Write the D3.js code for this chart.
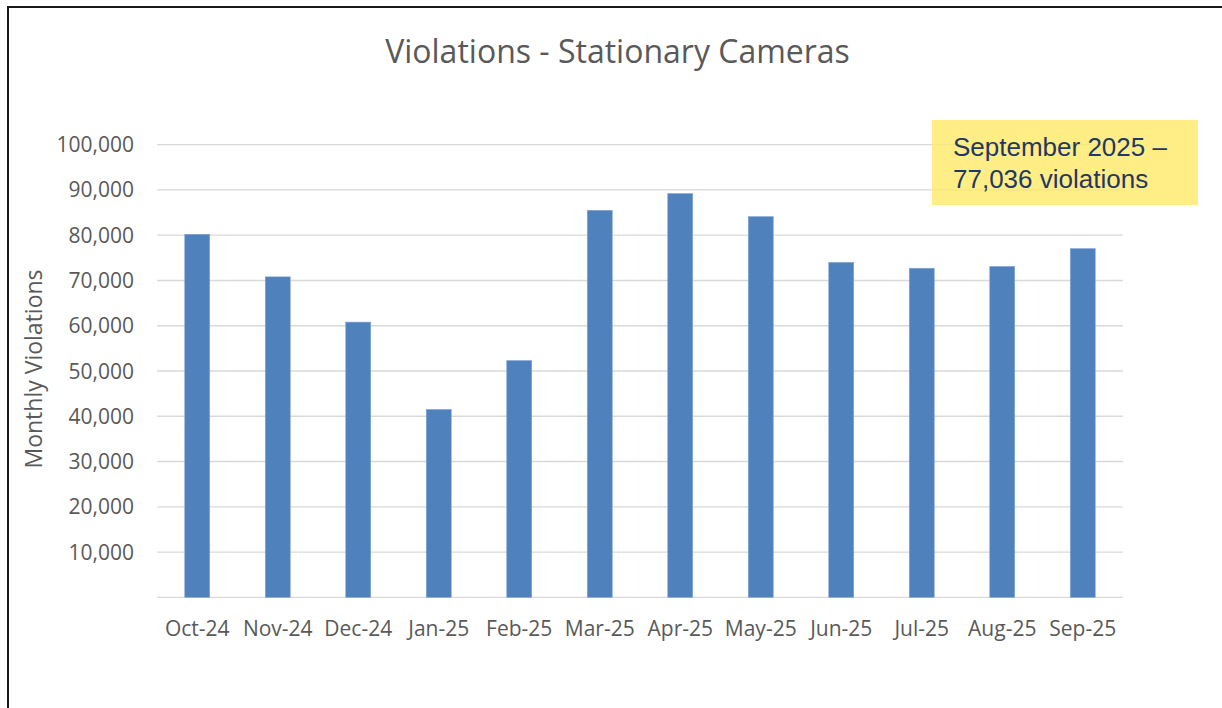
<!DOCTYPE html>
<html>
<head>
<meta charset="utf-8">
<script src="https://cdn.jsdelivr.net/npm/d3@7"></script>
<style>
html,body{margin:0;padding:0;background:#fff;}
svg{display:block;}
</style>
</head>
<body>
<svg id="chart" width="1222" height="708"></svg>
<script>
const months = ["Oct-24","Nov-24","Dec-24","Jan-25","Feb-25","Mar-25","Apr-25","May-25","Jun-25","Jul-25","Aug-25","Sep-25"];
const violations = [80200, 70800, 60800, 41500, 52300, 85500, 89200, 84100, 74000, 72700, 73100, 77036];
const yTicks = [10000,20000,30000,40000,50000,60000,70000,80000,90000,100000];
const gridValues = [0,10000,20000,30000,40000,50000,60000,70000,80000,90000,100000];
const titleText = "Violations - Stationary Cameras";
const yTitle = "Monthly Violations";
const noteLines = ["September 2025 \u2013", "77,036 violations"];

const svg = d3.select("#chart");
const W = 1222, H = 708;
const plot = {left:157, right:1123, top:144.7, bottom:597.3};

// frame lines
svg.append("line").attr("x1",8).attr("x2",W).attr("y1",7).attr("y2",7)
  .attr("stroke","#1a1a1a").attr("stroke-width",2);
svg.append("line").attr("x1",8).attr("x2",8).attr("y1",6).attr("y2",H)
  .attr("stroke","#1a1a1a").attr("stroke-width",2);

const x = d3.scaleBand().domain(months).range([plot.left, plot.right])
  .paddingInner(0.69).paddingOuter(0.345);
const y = d3.scaleLinear().domain([0,100000]).range([plot.bottom, plot.top]);

// gridlines
svg.append("g").selectAll("line").data(gridValues).join("line")
  .attr("x1",plot.left).attr("x2",plot.right)
  .attr("y1",d=>y(d)).attr("y2",d=>y(d))
  .attr("stroke","#d9d9d9").attr("stroke-width",1.3);

// y tick labels
const fmt = d3.format(",");
svg.append("g").selectAll("text").data(yTicks).join("text")
  .attr("x",134).attr("y",d=>y(d)+7.5)
  .attr("text-anchor","end")
  .attr("font-family","'Open Sans', sans-serif").attr("font-size",21)
  .attr("fill","#595959")
  .text(d=>fmt(d));

// bars
svg.append("g").selectAll("rect").data(months).join("rect")
  .attr("x",d=>x(d)).attr("width",x.bandwidth())
  .attr("y",(d,i)=>y(violations[i]))
  .attr("height",(d,i)=>y(0)-y(violations[i]))
  .attr("fill","#4f81bd").attr("stroke","#7fa4d2").attr("stroke-width",0.6);

// x labels
svg.append("g").selectAll("text").data(months).join("text")
  .attr("x",d=>x(d)+x.bandwidth()/2).attr("y",636)
  .attr("text-anchor","middle")
  .attr("font-family","'Open Sans', sans-serif").attr("font-size",21)
  .attr("fill","#595959")
  .text(d=>d);

// title
svg.append("text").attr("x",617.5).attr("y",62.5)
  .attr("text-anchor","middle")
  .attr("font-family","'Open Sans', sans-serif").attr("font-size",32)
  .attr("fill","#595959").text(titleText);

// y axis title
svg.append("text").attr("transform","translate(41.5,369) rotate(-90)")
  .attr("text-anchor","middle")
  .attr("font-family","'Open Sans', sans-serif").attr("font-size",23)
  .attr("fill","#595959").text(yTitle);

// annotation box
svg.append("rect").attr("x",932).attr("y",120).attr("width",266).attr("height",85)
  .attr("fill","#ffe866").attr("fill-opacity",0.8);
svg.append("g").selectAll("text").data(noteLines).join("text")
  .attr("x",953).attr("y",(d,i)=>156+i*32)
  .attr("font-family","'Liberation Sans', Arial, sans-serif").attr("font-size",26)
  .attr("fill","#1f3864").text(d=>d);
</script>
</body>
</html>
